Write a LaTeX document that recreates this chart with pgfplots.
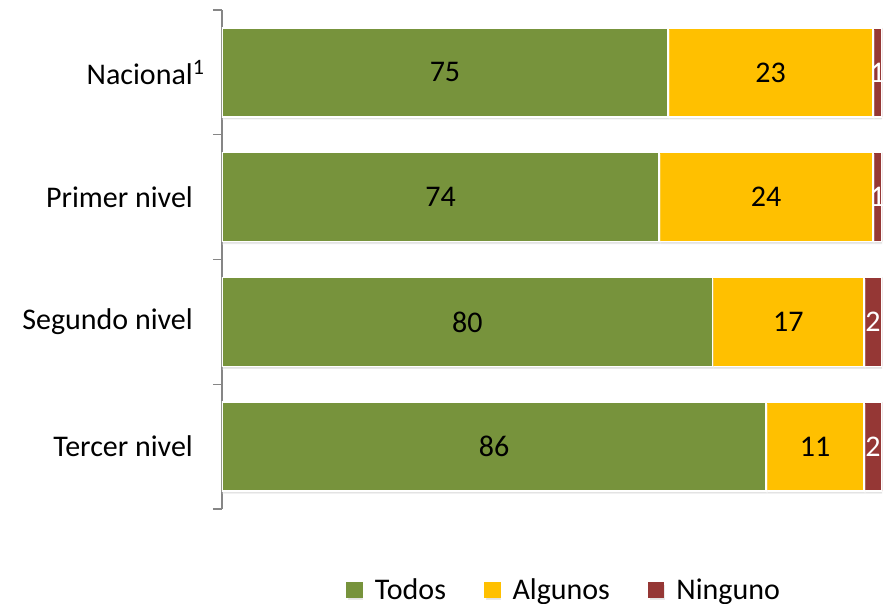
\documentclass[border=0pt]{standalone}
\usepackage{pgfplots}
\pgfplotsset{compat=1.18}
\usepackage{fontspec}
\setmainfont{Carlito}
\usetikzlibrary{shadows}
\definecolor{cG}{RGB}{119,147,60}
\definecolor{cY}{RGB}{255,192,0}
\definecolor{cR}{RGB}{149,55,53}
\definecolor{axgray}{RGB}{134,134,134}
\newcommand{\bigf}{\fontsize{30bp}{36bp}\selectfont}
\begin{document}
\begin{tikzpicture}
\begin{axis}[
  at={(0,0)}, anchor=south west,
  scale only axis, width=660bp, height=499bp,
  xbar stacked, bar width=89bp,
  xmin=25, xmax=99, ymin=-0.5, ymax=3.5,
  axis x line=none, axis y line*=left,
  y axis line style={draw=axgray, line width=1.3bp, -},
  ytick={0,1,2,3},
  yticklabels={Tercer nivel, Segundo nivel, Primer nivel, Nacional\rlap{\raisebox{10bp}{\fontsize{22bp}{26bp}\selectfont 1}}},
  yticklabel style={font=\bigf, inner sep=0pt, xshift=-29bp},
  major tick length=0pt,
  extra y ticks={-0.5,0.5,1.5,2.5,3.5}, extra y tick labels={},
  extra y tick style={major tick length=9bp, tick align=outside,
     tick style={draw=axgray, line width=1.3bp}},
  /pgf/number format/assume math mode=true,
  nodes near coords, point meta=rawx,
  nodes near coords style={anchor=center, font=\bigf, text=black},
  every axis plot/.append style={draw=white, line width=1.5bp,
     drop shadow={shadow xshift=1bp, shadow yshift=-2.5bp, opacity=0.22}},
  legend style={at={(0.517,-0.162)}, anchor=center, draw=none, fill=none,
     legend columns=-1, font=\bigf, nodes={inner sep=0pt},
     /tikz/every even column/.append style={column sep=38bp},
     /tikz/every odd column/.append style={column sep=12bp}},
]
\addplot[fill=cG, every node near coord/.append style={xshift=111.49bp},
  legend image code/.code={\fill[cG] (0bp,-7.5bp) rectangle (15bp,7.5bp);}]
  coordinates {(86,0) (80,1) (74,2) (75,3)};
\addplot[fill=cY, legend image code/.code={\fill[cY] (0bp,-7.5bp) rectangle (15bp,7.5bp);}]
  coordinates {(11,0) (17,1) (24,2) (23,3)};
\addplot[fill=cR, every node near coord/.append style={text=white},
  legend image code/.code={\fill[cR] (0bp,-7.5bp) rectangle (15bp,7.5bp);}]
  coordinates {(2,0) (2,1) (1,2) (1,3)};
\legend{Todos, Algunos, Ninguno}
\end{axis}
\pgfresetboundingbox
\path[use as bounding box] (-222bp,-95bp) rectangle (669bp,509bp);
\end{tikzpicture}
\end{document}
